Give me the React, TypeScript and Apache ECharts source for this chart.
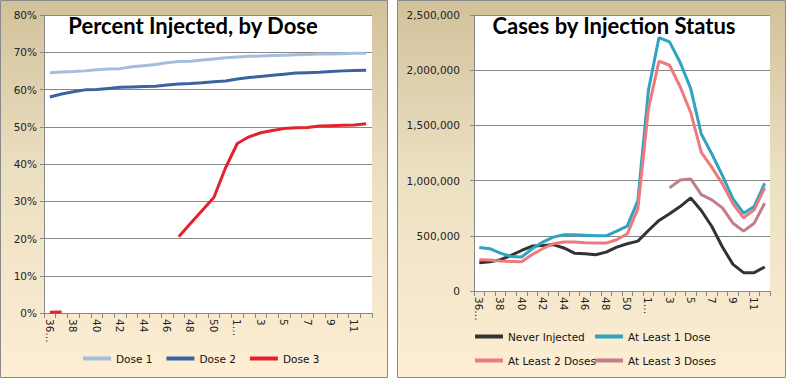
import React, { useEffect, useRef } from 'react';
import * as echarts from 'echarts';

const weeks = ['36','37','38','39','40','41','42','43','44','45','46','47','48','49','50','51','1','2','3','4','5','6','7','8','9','10','11','12'];

const dose1 = [64.5,64.7,64.8,65.0,65.3,65.5,65.6,66.1,66.4,66.7,67.2,67.5,67.6,67.9,68.2,68.5,68.7,68.9,69.0,69.1,69.2,69.3,69.4,69.5,69.5,69.6,69.7,69.7];
const dose2 = [58.0,58.8,59.4,59.9,60.0,60.3,60.6,60.7,60.8,60.9,61.2,61.5,61.6,61.8,62.1,62.3,62.8,63.2,63.5,63.8,64.1,64.4,64.5,64.6,64.8,65.0,65.1,65.2];
const dose3 = [0.2,0.3,null,null,null,null,null,null,null,null,null,20.5,24,27.5,31,39,45.5,47.3,48.4,49,49.5,49.7,49.8,50.2,50.3,50.4,50.5,50.8];

const neverInjected = [256000,265000,283000,322000,367000,407000,413000,420000,390000,343000,337000,328000,352000,398000,428000,452000,548000,639000,699000,765000,843000,729000,584000,398000,241000,166000,166000,217000];
const atLeast1 = [395000,383000,343000,313000,307000,383000,443000,488000,509000,509000,506000,500000,500000,542000,587000,819000,1818000,2296000,2256000,2070000,1833000,1422000,1241000,1045000,834000,705000,765000,976000];
const atLeast2 = [283000,280000,271000,268000,265000,331000,383000,428000,443000,443000,437000,434000,434000,464000,518000,744000,1650000,2083000,2045000,1850000,1617000,1256000,1120000,970000,789000,663000,735000,934000];
const atLeast3 = [null,null,null,null,null,null,null,null,null,null,null,null,null,null,null,null,null,null,934000,1006000,1015000,873000,825000,753000,614000,542000,614000,795000];

const leftTicks = [0,10,20,30,40,50,60,70,80];
const rightTicks = [0,500000,1000000,1500000,2000000,2500000];

const FONT = 'DejaVu Sans';
const FS = 10.5;
const GRAY = '#878787';

function panelBg(x: number, w: number) {
  return {
    type: 'rect',
    z: -10,
    shape: { x, y: 0.5, width: w, height: 377 },
    style: {
      fill: new echarts.graphic.LinearGradient(0, 0, 0, 1, [
        { offset: 0, color: '#d2c29b' },
        { offset: 0.45, color: '#ebdfc1' },
        { offset: 1, color: '#fdeed4' },
      ]),
      stroke: '#8a8a8a',
      lineWidth: 1,
    },
  };
}

function xAxis(gridIndex: number) {
  return {
    type: 'category',
    gridIndex,
    data: weeks,
    boundaryGap: true,
    axisLine: { lineStyle: { color: GRAY } },
    axisTick: { show: true, interval: 0, length: 5, lineStyle: { color: GRAY } },
    axisLabel: {
      interval: 1,
      rotate: -90,
      margin: 6,
      fontFamily: FONT,
      fontSize: FS,
      color: '#222',
      formatter: (v: string, i: number) => (i === 0 || v === '1' ? v + '…' : v),
    },
  };
}

function legendItem(name: string, left: number, top: number) {
  return {
    data: [name],
    left,
    top,
    padding: 0,
    icon: 'rect',
    itemWidth: 28,
    itemHeight: 4,
    itemGap: 0,
    textStyle: { fontFamily: FONT, fontSize: FS, color: '#111' },
  };
}

export default function App() {
  const ref = useRef<HTMLDivElement>(null);
  useEffect(() => {
    const chart = echarts.init(ref.current!, null, { renderer: 'svg' });
    chart.setOption({
      animation: false,
      backgroundColor: '#ffffff',
      graphic: [
        panelBg(0.5, 387),
        panelBg(397.5, 388),
        {
          type: 'text',
          z: 100,
          style: {
            text: 'Percent Injected, by Dose',
            x: 193,
            y: 14,
            textAlign: 'center',
            textVerticalAlign: 'top',
            font: 'bold 22px Lato',
            fill: '#000',
          },
        },
        {
          type: 'text',
          z: 100,
          style: {
            text: 'Cases by Injection Status',
            x: 614,
            y: 14,
            textAlign: 'center',
            textVerticalAlign: 'top',
            font: 'bold 22px Lato',
            fill: '#000',
          },
        },
      ],
      grid: [
        { left: 44, top: 15, width: 328, height: 298, show: true, backgroundColor: '#ffffff', borderWidth: 0 },
        { left: 474, top: 15, width: 296, height: 276, show: true, backgroundColor: '#ffffff', borderWidth: 0 },
      ],
      xAxis: [xAxis(0), xAxis(1)],
      yAxis: [
        {
          type: 'value',
          gridIndex: 0,
          min: leftTicks[0],
          max: leftTicks[leftTicks.length - 1],
          interval: 10,
          axisLine: { show: true, lineStyle: { color: GRAY } },
          axisTick: { show: true, length: 4, lineStyle: { color: GRAY } },
          splitLine: { lineStyle: { color: GRAY } },
          axisLabel: { fontFamily: FONT, fontSize: FS, color: '#222', margin: 7, formatter: '{value}%' },
        },
        {
          type: 'value',
          gridIndex: 1,
          min: rightTicks[0],
          max: rightTicks[rightTicks.length - 1],
          interval: 500000,
          axisLine: { show: true, lineStyle: { color: GRAY } },
          axisTick: { show: true, length: 4, lineStyle: { color: GRAY } },
          splitLine: { lineStyle: { color: GRAY } },
          axisLabel: {
            fontFamily: FONT,
            fontSize: FS,
            color: '#222',
            margin: 14,
            formatter: (v: number) => v.toLocaleString('en-US'),
          },
        },
      ],
      legend: [
        {
          data: ['Dose 1', 'Dose 2', 'Dose 3'],
          left: 83,
          top: 353,
          padding: 0,
          icon: 'rect',
          itemWidth: 28,
          itemHeight: 4,
          itemGap: 14,
          textStyle: { fontFamily: FONT, fontSize: FS, color: '#111' },
        },
        legendItem('Never Injected', 475, 331),
        legendItem('At Least 1 Dose', 595, 331),
        legendItem('At Least 2 Doses', 475, 355),
        legendItem('At Least 3 Doses', 595, 355),
      ],
      series: [
        { name: 'Dose 1', type: 'line', xAxisIndex: 0, yAxisIndex: 0, data: dose1, showSymbol: false, symbol: 'none', lineStyle: { width: 3, color: '#a5bee0' }, itemStyle: { color: '#a5bee0' } },
        { name: 'Dose 2', type: 'line', xAxisIndex: 0, yAxisIndex: 0, data: dose2, showSymbol: false, symbol: 'none', lineStyle: { width: 3, color: '#3a63a2' }, itemStyle: { color: '#3a63a2' } },
        { name: 'Dose 3', type: 'line', xAxisIndex: 0, yAxisIndex: 0, data: dose3, showSymbol: false, symbol: 'none', lineStyle: { width: 3, color: '#e2222c' }, itemStyle: { color: '#e2222c' } },
        { name: 'Never Injected', type: 'line', xAxisIndex: 1, yAxisIndex: 1, data: neverInjected, showSymbol: false, symbol: 'none', lineStyle: { width: 3, color: '#333333' }, itemStyle: { color: '#333333' } },
        { name: 'At Least 1 Dose', type: 'line', xAxisIndex: 1, yAxisIndex: 1, data: atLeast1, showSymbol: false, symbol: 'none', lineStyle: { width: 3, color: '#2fa3c2' }, itemStyle: { color: '#2fa3c2' } },
        { name: 'At Least 2 Doses', type: 'line', xAxisIndex: 1, yAxisIndex: 1, data: atLeast2, showSymbol: false, symbol: 'none', lineStyle: { width: 3, color: '#ef7a7e' }, itemStyle: { color: '#ef7a7e' } },
        { name: 'At Least 3 Doses', type: 'line', xAxisIndex: 1, yAxisIndex: 1, data: atLeast3, showSymbol: false, symbol: 'none', lineStyle: { width: 3, color: '#c27d8a' }, itemStyle: { color: '#c27d8a' } },
      ],
    });
    return () => chart.dispose();
  }, []);
  return <div ref={ref} style={{ position: 'fixed', left: 0, top: 0, width: 786, height: 379 }} />;
}
